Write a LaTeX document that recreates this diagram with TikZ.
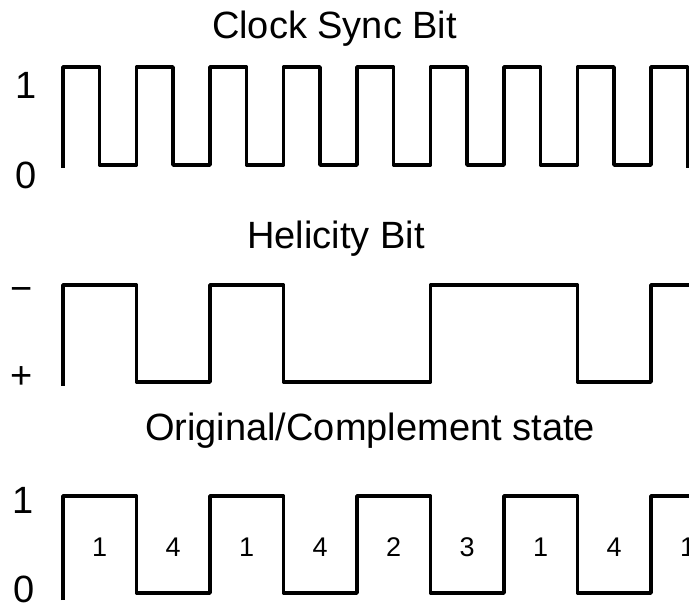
\documentclass[tikz,border=0pt]{standalone}
\usepackage{fontspec}
\setmainfont{Liberation Sans}
\begin{document}
\begin{tikzpicture}[x=1pt,y=-1pt,
  wave/.style={line width=3.5pt,line join=round,black},
  lbl/.style={anchor=base,inner sep=0pt,font=\fontsize{38}{44}\selectfont},
  num/.style={anchor=base,inner sep=0pt,font=\fontsize{27}{32}\selectfont}]
\useasboundingbox (0,0) rectangle (689,604);
\clip (0,0) rectangle (689,604);
% titles
\node[lbl] (t1) at (334.5,39) {Clock Sync Bit};
\node[lbl] (t2) at (336,249) {Helicity Bit};
\node[lbl] (t3) at (370,441) {Original/Complement state};
% level labels
\node[lbl] (c1) at (26,98.6) {1};
\node[lbl] (c0) at (26,188.6) {0};
\node[lbl] (hm) at (22,302) {−};
\node[lbl] (hp) at (22,389) {+};
\node[lbl] (o1) at (23,513.6) {1};
\node[lbl] (o0) at (24,602.5) {0};
% clock waveform
\draw[wave] (63,168) -- (63,67) -- (99.5,67) -- (99.5,165) -- (136.5,165) -- (136.5,67) -- (173,67) -- (173,165) -- (210,165) -- (210,67) -- (246.5,67) -- (246.5,165) -- (283.5,165) -- (283.5,67) -- (320,67) -- (320,165) -- (357,165) -- (357,67) -- (393.5,67) -- (393.5,165) -- (430.5,165) -- (430.5,67) -- (467,67) -- (467,165) -- (504,165) -- (504,67) -- (540.5,67) -- (540.5,165) -- (577.5,165) -- (577.5,67) -- (614,67) -- (614,165) -- (651,165) -- (651,67) -- (687.5,67) -- (687.5,168);
% helicity waveform
\draw[wave] (63,386) -- (63,285) -- (136.5,285) -- (136.5,382) -- (210,382) -- (210,285) -- (283.5,285) -- (283.5,382) -- (430.5,382) -- (430.5,285) -- (577.5,285) -- (577.5,382) -- (651,382) -- (651,285) -- (700,285);
% original/complement waveform
\draw[wave] (63,600) -- (63,496) -- (136.5,496) -- (136.5,593) -- (210,593) -- (210,496) -- (283.5,496) -- (283.5,593) -- (357,593) -- (357,496) -- (430.5,496) -- (430.5,593) -- (504,593) -- (504,496) -- (577.5,496) -- (577.5,593) -- (651,593) -- (651,496) -- (700,496);
% state numbers
\foreach \x/\v [count=\i] in {99.75/1,173.25/4,246.75/1,320.25/4,393.75/2,467.25/3,540.75/1,614.25/4,687.75/1}
  \node[num] (n\i) at (\x,556) {\v};
\end{tikzpicture}
\end{document}
